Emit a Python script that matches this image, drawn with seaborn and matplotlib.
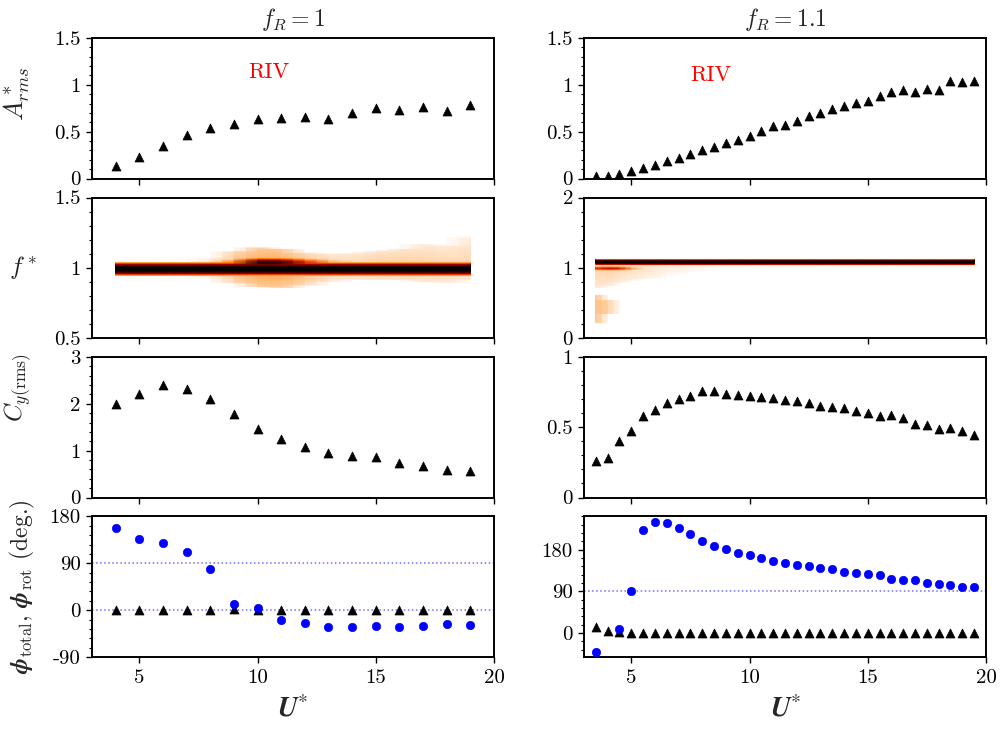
import numpy as np
import pandas as pd
import matplotlib
matplotlib.use("Agg")
import matplotlib.pyplot as plt
import seaborn as sns
from matplotlib.ticker import MultipleLocator

# ---------------- data ----------------
u_left = [4, 5, 6, 7, 8, 9, 10, 11, 12, 13, 14, 15, 16, 17, 18, 19]
amp_left = [0.13, 0.23, 0.35, 0.46, 0.54, 0.58, 0.64, 0.65, 0.66, 0.64, 0.70, 0.75, 0.73, 0.76, 0.72, 0.78]
cy_left = [2.00, 2.22, 2.40, 2.32, 2.11, 1.79, 1.46, 1.25, 1.07, 0.96, 0.89, 0.86, 0.73, 0.67, 0.58, 0.56]
phi_total_left = [157, 137, 130, 112, 79, 12, 5, -18, -25, -32, -32, -30, -32, -31, -26, -28]
phi_rot_left = [1, 1, 1, 1, 1, 3, 1, 1, 1, 1, 1, 1, 1, 1, 1, 1]

u_right = [3.5, 4.0, 4.5, 5.0, 5.5, 6.0, 6.5, 7.0, 7.5, 8.0, 8.5, 9.0, 9.5, 10.0, 10.5, 11.0,
           11.5, 12.0, 12.5, 13.0, 13.5, 14.0, 14.5, 15.0, 15.5, 16.0, 16.5, 17.0, 17.5,
           18.0, 18.5, 19.0, 19.5]
amp_right = [0.03, 0.03, 0.05, 0.08, 0.11, 0.14, 0.19, 0.22, 0.26, 0.30, 0.34, 0.38, 0.41,
             0.45, 0.51, 0.56, 0.57, 0.61, 0.67, 0.70, 0.74, 0.77, 0.81, 0.83, 0.88, 0.92,
             0.94, 0.92, 0.96, 0.95, 1.04, 1.03, 1.04]
cy_right = [0.26, 0.28, 0.40, 0.47, 0.58, 0.62, 0.67, 0.70, 0.725, 0.755, 0.755, 0.74, 0.73,
            0.72, 0.715, 0.71, 0.695, 0.687, 0.673, 0.654, 0.647, 0.635, 0.616, 0.604, 0.583,
            0.59, 0.564, 0.526, 0.514, 0.486, 0.498, 0.47, 0.448]
phi_total_right = [-41, np.nan, 9, 90, 223, 241, 237, 228, 214, 198, 189, 181, 173, 169, 162,
                   156, 151, 146, 145, 141, 138, 133, 130, 128, 125, 116, 114, 115, 109, 107,
                   104, 100, 100]
phi_rot_right = [13, 4, 3] + [1] * 30

# frequency-spectrum descriptors per U* column
spec_peak_left = [0.995] * 16
spec_up_left = [1.045, 1.045, 1.045, 1.045, 1.07, 1.12, 1.15, 1.135, 1.11, 1.10, 1.11, 1.12, 1.14, 1.17, 1.16, 1.22]
spec_dn_left = [0.945, 0.945, 0.945, 0.945, 0.93, 0.895, 0.87, 0.86, 0.88, 0.905, 0.92, 0.92, 0.92, 0.905, 0.895, 0.92]
spec_halo_left = [0, 0, 0, 0, 0.1, 0.17, 0.22, 0.22, 0.17, 0.13, 0.12, 0.14, 0.14, 0.13, 0.12, 0.12]
spec_secf_left = [1.04] * 16
spec_seca_left = [0, 0, 0, 0, 0, 0.3, 0.9, 0.85, 0.45, 0.2, 0, 0, 0, 0, 0, 0]
spec_plo_left = [0] * 16
spec_phi_left = [0] * 16
spec_pamp_left = [0] * 16

spec_peak_right = [1.09] * 33
spec_up_right = [1.14] * 33
spec_dn_right = [0.72, 0.75, 0.80, 0.83, 0.85, 0.86, 0.90, 0.93, 0.95, 0.97] + [1.0, 1.02, 1.0, 1.03, 1.01, 1.0] * 3 + [1.0, 1.02, 1.0, 1.01, 1.0]
spec_halo_right = [0.13, 0.13, 0.12, 0.11, 0.1, 0.09, 0.08, 0.08, 0.07, 0.07] + [0.065] * 23
spec_secf_right = [1.0] * 33
spec_seca_right = [0.4, 0.5, 0.45, 0.2] + [0] * 29
spec_plo_right = [0.22, 0.35] + [0] * 31
spec_phi_right = [0.62, 0.55] + [0] * 31
spec_pamp_right = [0.15, 0.12] + [0] * 31

# ---------------- style ----------------
sns.set_theme(style="ticks")
plt.rcParams.update({
    "font.family": "serif",
    "font.serif": ["cmr10"],
    "mathtext.fontset": "cm",
    "axes.formatter.use_mathtext": True,
    "axes.unicode_minus": False,
    "axes.linewidth": 1.4,
    "axes.edgecolor": "black",
    "xtick.direction": "out",
    "ytick.direction": "out",
    "xtick.major.size": 4,
    "ytick.major.size": 4,
    "ytick.minor.size": 2.2,
    "xtick.major.width": 1.0,
    "ytick.major.width": 1.0,
    "ytick.minor.width": 0.8,
    "xtick.labelsize": 15,
    "ytick.labelsize": 15,
    "xtick.color": "black",
    "ytick.color": "black",
    "xtick.major.pad": 5,
    "ytick.major.pad": 4,
})

fig, axes = plt.subplots(4, 2, figsize=(10.02, 7.31), dpi=100)
fig.subplots_adjust(left=0.0918, right=0.984, top=0.948, bottom=0.1012, wspace=0.224, hspace=0.135)

cmap = plt.get_cmap("gist_heat_r").copy()
cmap.set_under("white")
fgrid = np.linspace(0, 2, 801)


def spectrum_field(peak, up, dn, halo, secf, seca, plo, phi, pamp, core_w):
    n = len(peak)
    Z = np.zeros((len(fgrid), n))
    for i in range(n):
        d = fgrid - peak[i]
        core = np.exp(-(np.abs(d) / core_w) ** 3)
        core[np.abs(d) > 1.25 * core_w] = 0
        h = np.zeros_like(fgrid)
        above = (d >= 0) & (fgrid <= up[i])
        below = (d < 0) & (fgrid >= dn[i])
        if up[i] > peak[i]:
            h[above] = halo[i] * (1 - 0.4 * d[above] / (up[i] - peak[i]))
        if dn[i] < peak[i]:
            h[below] = halo[i] * (1 - 0.4 * (-d[below]) / (peak[i] - dn[i]))
        s = seca[i] * np.exp(-((fgrid - secf[i]) / 0.028) ** 2)
        p = np.where((fgrid >= plo[i]) & (fgrid <= phi[i]), pamp[i], 0.0)
        Z[:, i] = np.maximum.reduce([core, h, s, p])
    return Z


def draw_spec(ax, u, Z):
    U, F = np.meshgrid(np.asarray(u, float), fgrid)
    ax.pcolormesh(U, F, Z, shading="gouraud", cmap=cmap, vmin=0.035, vmax=1.0, rasterized=True)


tri_kw = dict(marker="^", color="black", edgecolor="black", linewidth=0.5, s=42, legend=False, zorder=3)
dot_kw = dict(marker="o", color="#0000ff", edgecolor="#0000ff", linewidth=0.5, s=36, legend=False, zorder=4)

df_l = pd.DataFrame({"U": u_left, "A": amp_left, "Cy": cy_left, "pt": phi_total_left, "pr": phi_rot_left})
df_r = pd.DataFrame({"U": u_right, "A": amp_right, "Cy": cy_right, "pt": phi_total_right, "pr": phi_rot_right})

# Row 1
sns.scatterplot(data=df_l, x="U", y="A", ax=axes[0, 0], **tri_kw)
sns.scatterplot(data=df_r, x="U", y="A", ax=axes[0, 1], **tri_kw)
axes[0, 0].text(10.5, 1.13, "RIV", color="red", fontsize=16, ha="center", va="center")
axes[0, 1].text(8.35, 1.10, "RIV", color="red", fontsize=16, ha="center", va="center")

# Row 2: spectra
draw_spec(axes[1, 0], u_left, spectrum_field(spec_peak_left, spec_up_left, spec_dn_left, spec_halo_left,
                                             spec_secf_left, spec_seca_left, spec_plo_left, spec_phi_left,
                                             spec_pamp_left, 0.04))
draw_spec(axes[1, 1], u_right, spectrum_field(spec_peak_right, spec_up_right, spec_dn_right, spec_halo_right,
                                              spec_secf_right, spec_seca_right, spec_plo_right, spec_phi_right,
                                              spec_pamp_right, 0.038))

# Row 3
sns.scatterplot(data=df_l, x="U", y="Cy", ax=axes[2, 0], **tri_kw)
sns.scatterplot(data=df_r, x="U", y="Cy", ax=axes[2, 1], **tri_kw)

# Row 4
axes[3, 0].axhline(90, color="#7070ff", ls=":", lw=1.1, zorder=1)
axes[3, 0].axhline(0, color="#7070ff", ls=":", lw=1.1, zorder=1)
axes[3, 1].axhline(90, color="#7070ff", ls=":", lw=1.1, zorder=1)
sns.scatterplot(data=df_l, x="U", y="pr", ax=axes[3, 0], **tri_kw)
sns.scatterplot(data=df_l, x="U", y="pt", ax=axes[3, 0], **dot_kw)
sns.scatterplot(data=df_r, x="U", y="pr", ax=axes[3, 1], **tri_kw)
sns.scatterplot(data=df_r.dropna(), x="U", y="pt", ax=axes[3, 1], **dot_kw)

# ---------------- axes formatting ----------------
ylims = [[(0, 1.5), (0, 1.5)], [(0.5, 1.5), (0, 2)], [(0, 3), (0, 1)], [(-90, 180), (-52, 252)]]
yticks = [[[0, 0.5, 1, 1.5], [0, 0.5, 1, 1.5]],
          [[0.5, 1, 1.5], [0, 1, 2]],
          [[0, 1, 2, 3], [0, 0.5, 1]],
          [[-90, 0, 90, 180], [0, 90, 180]]]
ylabels_txt = [[["0", "0.5", "1", "1.5"], ["0", "0.5", "1", "1.5"]],
               [["0.5", "1", "1.5"], ["0", "1", "2"]],
               [["0", "1", "2", "3"], ["0", "0.5", "1"]],
               [["-90", "0", "90", "180"], ["0", "90", "180"]]]
yminor = [[0.1, 0.1], [0.1, 0.2], [0.2, 0.1], [18, 18]]
xticks = [5, 10, 15, 20]

for r in range(4):
    for c in range(2):
        ax = axes[r, c]
        ax.set_xlim(3, 20)
        ax.set_ylim(*ylims[r][c])
        ax.set_yticks(yticks[r][c], ylabels_txt[r][c])
        ax.yaxis.set_minor_locator(MultipleLocator(yminor[r][c]))
        ax.set_xticks(xticks, [str(t) for t in xticks])
        ax.set_xlabel("")
        ax.set_ylabel("")
        for sp in ax.spines.values():
            sp.set_visible(True)
            sp.set_linewidth(1.4)
            sp.set_color("black")
        if r < 3:
            ax.tick_params(axis="x", labelbottom=False)
        ax.tick_params(axis="both", which="both", top=False, right=False)

# titles
axes[0, 0].set_title(r"$f_R = 1$", fontsize=17, pad=9)
axes[0, 1].set_title(r"$f_R = 1.1$", fontsize=17, pad=9)

# y labels
axes[0, 0].set_ylabel(r"$A^*_{rms}$", fontsize=19, va="center")
axes[0, 0].yaxis.set_label_coords(-0.187, 0.6)
axes[1, 0].set_ylabel(r"$f^*$", fontsize=18, rotation=0, va="center", ha="center")
axes[1, 0].yaxis.set_label_coords(-0.172, 0.5)
axes[2, 0].set_ylabel(r"$C_{y(\mathrm{rms})}$", fontsize=18, va="center")
axes[2, 0].yaxis.set_label_coords(-0.184, 0.78)
axes[3, 0].set_ylabel(r"$\boldsymbol{\phi}_{\mathrm{total}}$, $\boldsymbol{\phi}_{\mathrm{rot}}$ (deg.)", fontsize=17, va="center")
axes[3, 0].yaxis.set_label_coords(-0.174, 0.5)

# x labels
for c in range(2):
    axes[3, c].set_xlabel(r"$\mathbfit{U}^{*}$", fontsize=20, labelpad=6, math_fontfamily="stix")

fig.savefig("out.png", dpi=100)
